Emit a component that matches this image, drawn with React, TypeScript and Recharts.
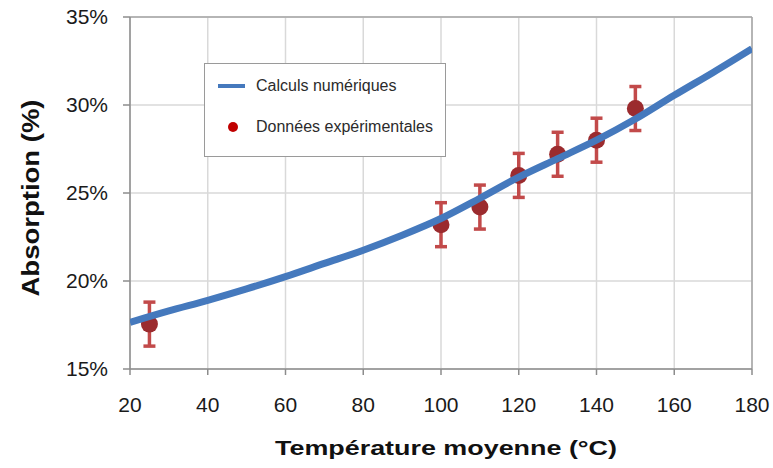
import React from 'react';
import {
  ComposedChart,
  Line,
  Scatter,
  XAxis,
  YAxis,
  CartesianGrid,
  ErrorBar,
  Legend,
  Label,
  ReferenceLine,
} from 'recharts';

// Numerical calculation curve
const curveTemps = [20, 30, 40, 50, 60, 70, 80, 90, 100, 110, 120, 130, 140, 150, 160, 170, 180];
const curveAbsorption = [17.65, 18.3, 18.9, 19.55, 20.25, 21.0, 21.75, 22.6, 23.55, 24.7, 25.9, 26.95, 28.0, 29.2, 30.55, 31.85, 33.2];

// Experimental data
const expTemps = [25, 100, 110, 120, 130, 140, 150];
const expAbsorption = [17.55, 23.2, 24.2, 26.0, 27.2, 28.0, 29.8];
const expError = [1.25, 1.25, 1.25, 1.25, 1.25, 1.25, 1.25];

const xTicks = [20, 40, 60, 80, 100, 120, 140, 160, 180];
const yTicks = [15, 20, 25, 30, 35];

const seriesNames = ['Calculs numériques', 'Données expérimentales'];
const xTitle = 'Température moyenne (°C)';
const yTitle = 'Absorption (%)';

const curveData = curveTemps.map((t, i) => ({ x: t, y: curveAbsorption[i] }));
const expData = expTemps.map((t, i) => ({ x: t, y: expAbsorption[i], err: expError[i] }));

const FONT = '"Liberation Sans", Arial, sans-serif';
const BLUE = '#4579bd';
const DARKRED = '#9b2b2e';
const ERRRED = '#c24a4a';
const AXIS = '#8c8c8c';

const LegendBox = () => (
  <div
    style={{
      width: 242,
      height: 94,
      boxSizing: 'border-box',
      border: '1px solid #9a9a9a',
      background: '#fff',
      fontFamily: FONT,
      fontSize: 16,
      color: '#2b2b2b',
      position: 'relative',
    }}
  >
    <div style={{ position: 'absolute', left: 13, top: 13, display: 'flex', alignItems: 'center' }}>
      <div style={{ width: 27, height: 4, background: BLUE, marginRight: 11 }} />
      <span>{seriesNames[0]}</span>
    </div>
    <div style={{ position: 'absolute', left: 23, top: 54, display: 'flex', alignItems: 'center' }}>
      <div style={{ width: 10, height: 10, borderRadius: 5, background: '#c00000', marginRight: 18 }} />
      <span>{seriesNames[1]}</span>
    </div>
  </div>
);

const XTitle = (props: any) => {
  const vb = props.viewBox || {};
  const cx = vb.x + vb.width / 2 + 5;
  return (
    <text
      x={cx}
      y={455}
      textAnchor="middle"
      fontFamily={FONT}
      fontWeight="bold"
      fontSize={21}
      fill="#111"
      textLength={342}
      lengthAdjust="spacingAndGlyphs"
    >
      {xTitle}
    </text>
  );
};

const YTitle = () => (
  <text
    x={31}
    y={198}
    transform="rotate(-90 31 198)"
    textAnchor="middle"
    dominantBaseline="central"
    fontFamily={FONT}
    fontWeight="bold"
    fontSize={23}
    fill="#111"
    textLength={197}
    lengthAdjust="spacingAndGlyphs"
  >
    {yTitle}
  </text>
);

const Dot = (p: any) => <circle cx={p.cx} cy={p.cy} r={8.5} fill={DARKRED} />;

export default function App() {
  return (
    <div style={{ position: 'absolute', left: 0, top: 0, width: 773, height: 468, background: '#fff' }}>
      <ComposedChart
        width={773}
        height={468}
        margin={{ top: 17, right: 21, left: 0, bottom: 0 }}
        style={{ fontFamily: FONT }}
      >
        <CartesianGrid stroke="#d9d9d9" strokeWidth={1.5} />
        <XAxis
          type="number"
          dataKey="x"
          domain={[20, 180]}
          ticks={xTicks}
          allowDataOverflow
          height={99}
          tickSize={6}
          tickMargin={22}
          stroke={AXIS}
          strokeWidth={1.5}
          tick={{ fontSize: 21, fill: '#1a1a1a', fontFamily: FONT }}
        >
          <Label content={<XTitle />} />
        </XAxis>
        <YAxis
          type="number"
          dataKey="y"
          domain={[15, 35]}
          ticks={yTicks}
          allowDataOverflow
          width={130}
          tickSize={7}
          tickMargin={15}
          stroke={AXIS}
          strokeWidth={1.5}
          tickFormatter={(v: number) => `${v}%`}
          tick={{ fontSize: 21, fill: '#1a1a1a', fontFamily: FONT }}
        >
          <Label content={<YTitle />} />
        </YAxis>
        <ReferenceLine y={35} stroke="#a6a6a6" strokeWidth={1.5} />
        <ReferenceLine x={180} stroke="#a6a6a6" strokeWidth={1.5} />
        <Scatter
          name={seriesNames[1]}
          data={expData}
          dataKey="y"
          shape={<Dot />}
          isAnimationActive={false}
          zIndex={500}
        >
          <ErrorBar dataKey="err" direction="y" width={6} stroke={ERRRED} strokeWidth={3.5} isAnimationActive={false} />
        </Scatter>
        <Line
          name={seriesNames[0]}
          data={curveData}
          dataKey="y"
          type="monotone"
          stroke={BLUE}
          strokeWidth={7}
          dot={false}
          activeDot={false}
          isAnimationActive={false}
          zIndex={1000}
        />
        <Legend
          layout="vertical"
          align="center"
          verticalAlign="middle"
          content={<LegendBox />}
          wrapperStyle={{ position: 'absolute', left: 204, top: 63, width: 242, height: 94 }}
        />
      </ComposedChart>
    </div>
  );
}
